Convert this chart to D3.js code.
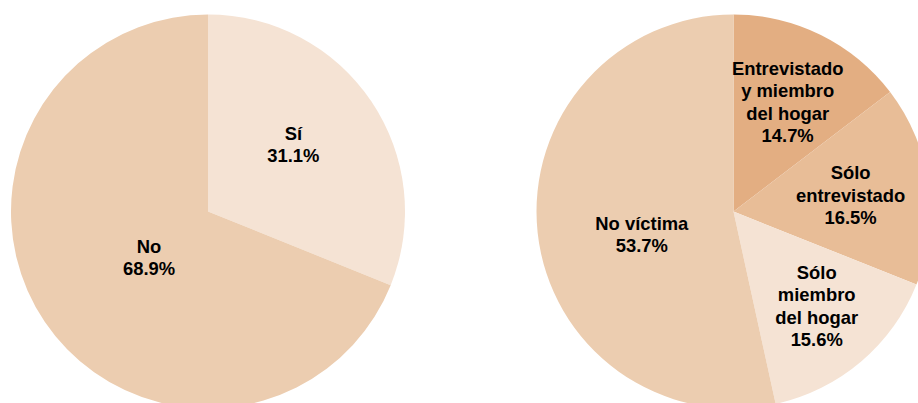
<!DOCTYPE html>
<html>
<head>
<meta charset="utf-8">
<script src="https://cdn.jsdelivr.net/npm/d3@7"></script>
<style>
html,body{margin:0;padding:0;background:#fff;}
svg{display:block;}
</style>
</head>
<body>
<svg id="chart" width="918" height="403"></svg>
<script>
// ---- Data ----
const leftCategories = ["Sí", "No"];
const leftValues = [31.1, 68.9];

const rightCategories = [["Entrevistado", "y miembro", "del hogar"], ["Sólo", "entrevistado"], ["Sólo", "miembro", "del hogar"], ["No víctima"]];
const rightValues = [14.7, 16.5, 15.6, 53.7];

// ---- Styles ----
const leftColors = ["#F5E3D4", "#ECCDB0"];
const rightColors = ["#E3AE82", "#E8BD97", "#F5E3D4", "#ECCDB0"];
// label placement: fraction of radius, angular nudge (deg)
const leftLabelStyle = [{f: 0.55, da: -4}, {f: 0.38, da: -4}];
const rightLabelStyle = [{f: 0.62, da: 0}, {f: 0.60, da: 0}, {f: 0.64, da: -1}, {f: 0.48, da: -8}];

const svg = d3.select("#chart");
const R = 197;
const fontSize = 18.4, lineH = 22.5;

function drawPie(cx, cy, cats, vals, colors, lstyle) {
  const g = svg.append("g").attr("transform", `translate(${cx},${cy})`);
  const pie = d3.pie().sort(null).value(d => d)(vals);
  const arc = d3.arc().innerRadius(0).outerRadius(R);
  g.selectAll("path").data(pie).join("path")
    .attr("d", arc)
    .attr("fill", (d, i) => colors[i]);
  pie.forEach((d, i) => {
    const st = lstyle[i];
    const a = (d.startAngle + d.endAngle) / 2 + st.da * Math.PI / 180;
    const rr = R * st.f;
    const x = Math.sin(a) * rr, y = -Math.cos(a) * rr;
    const lines = [].concat(cats[i], [d3.format(".1f")(vals[i]) + "%"]);
    const t = g.append("text")
      .attr("text-anchor", "middle")
      .attr("font-family", "Liberation Sans, Arial, sans-serif")
      .attr("font-weight", "bold")
      .attr("font-size", fontSize)
      .attr("fill", "#000");
    const y0 = y - (lines.length - 1) * lineH / 2;
    lines.forEach((ln, k) => {
      t.append("tspan").attr("x", x).attr("y", y0 + k * lineH).attr("dy", "0.35em").text(ln);
    });
  });
}

drawPie(208, 211.5, leftCategories, leftValues, leftColors, leftLabelStyle);
drawPie(733.5, 211.5, rightCategories, rightValues, rightColors, rightLabelStyle);
</script>
</body>
</html>
